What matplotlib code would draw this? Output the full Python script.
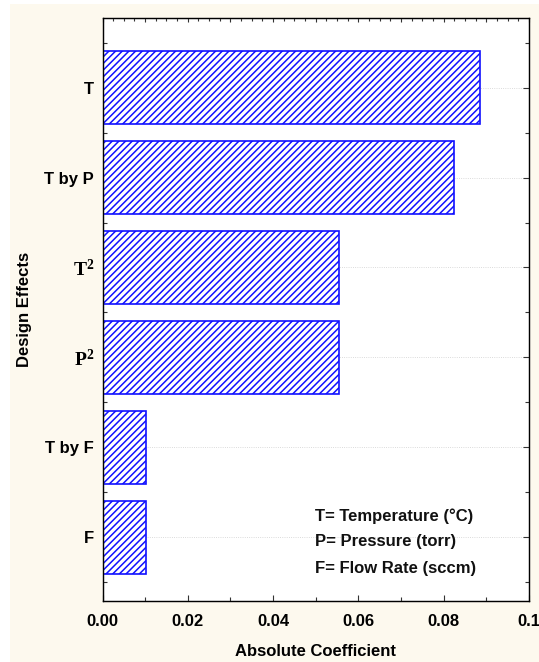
import matplotlib
matplotlib.use("Agg")
import matplotlib.pyplot as plt
from matplotlib.patches import Rectangle
from matplotlib.ticker import AutoMinorLocator, MultipleLocator

effects = ["T", "T by P", r"$\mathbf{T^2}$", r"$\mathbf{P^2}$", "T by F", "F"]
coefficients = [0.0884, 0.0824, 0.0554, 0.0554, 0.0101, 0.0101]
xticks = [0.0, 0.02, 0.04, 0.06, 0.08, 0.1]
xticklabels = ["0.00", "0.02", "0.04", "0.06", "0.08", "0.1"]
legend_lines = ["T= Temperature (\u00b0C)", "P= Pressure (torr)", "F= Flow Rate (sccm)"]

plt.rcParams["font.family"] = ["Liberation Sans", "DejaVu Sans"]
plt.rcParams["font.weight"] = "bold"
plt.rcParams["mathtext.fontset"] = "custom"
plt.rcParams["mathtext.bf"] = "Liberation Serif:bold"
plt.rcParams["mathtext.rm"] = "Liberation Serif:bold"
plt.rcParams["hatch.linewidth"] = 1.1
plt.rcParams["hatch.color"] = "#1010ff"

fig = plt.figure(figsize=(5.39, 6.62), dpi=100, facecolor="white")
# cream panel behind the plot
fig.patches.append(Rectangle((10 / 539, 0), 1, 1 - 4 / 662, transform=fig.transFigure,
                             facecolor="#fdf9ee", edgecolor="none", zorder=-10))

ax = fig.add_axes([102.5 / 539, 61 / 662, 426.5 / 539, 583 / 662])
ax.set_facecolor("white")

ypos = list(range(len(effects)))
for y in ypos:
    ax.axhline(y, color="#cfcfcf", lw=0.6, ls=":", zorder=0)
ax.barh(ypos, coefficients, height=0.81, color="white", edgecolor="#1010ff",
        hatch="/////", linewidth=1.2, zorder=2)

ax.set_xlim(0, 0.1)
ax.set_ylim(5.71, -0.775)
ax.set_xticks(xticks)
ax.set_xticklabels(xticklabels, fontsize=12, fontweight="bold")
ax.xaxis.set_minor_locator(MultipleLocator(0.01))
ax.set_yticks(ypos)
ax.set_yticklabels(effects, fontsize=12, fontweight="bold")
for lbl in ax.get_yticklabels():
    if "$" in lbl.get_text():
        lbl.set_fontsize(14)
ax.yaxis.set_minor_locator(AutoMinorLocator(2))
ax.tick_params(axis="x", which="both", direction="in", pad=9, top=False)
ax.tick_params(axis="y", which="both", direction="in", pad=6, right=True)
ax.tick_params(which="major", length=4, width=0.8, color="#333333")
ax.tick_params(which="minor", length=3, width=0.8, color="#333333")

for sp in ax.spines.values():
    sp.set_color("#222222")
    sp.set_linewidth(1.0)

# fine ticks along the top edge
top = ax.twiny()
top.set_xlim(0, 0.1)
top.xaxis.set_major_locator(MultipleLocator(0.01))
top.xaxis.set_minor_locator(MultipleLocator(0.0025))
top.tick_params(axis="x", which="both", direction="in", labeltop=False, color="#333333")
top.tick_params(which="major", length=3, width=0.8)
top.tick_params(which="minor", length=2, width=0.8)

ax.set_xlabel("Absolute Coefficient", fontsize=12, fontweight="bold")
ax.xaxis.set_label_coords(0.5, -0.0738)
ax.set_ylabel("Design Effects", fontsize=12, fontweight="bold")
ax.yaxis.set_label_coords(-0.166, 0.5)

for text, ty in zip(legend_lines, [0.1446, 0.1017, 0.0561]):
    ax.text(0.498, ty, text, transform=ax.transAxes, fontsize=12, fontweight="bold",
            ha="left", va="center", color="#111111")

fig.savefig("out.png", dpi=100, facecolor=fig.get_facecolor())
